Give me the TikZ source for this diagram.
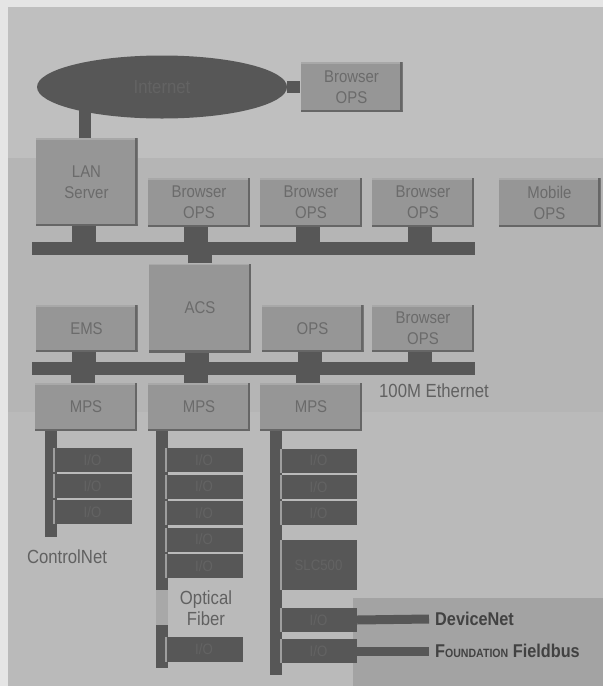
\documentclass[tikz,border=0pt]{standalone}
\usepackage{fontspec}
\setmainfont{Liberation Sans}[FakeStretch=0.88]
\usetikzlibrary{shapes.geometric}
\definecolor{marginc}{gray}{0.90}
\definecolor{bgtop}{gray}{0.75}
\definecolor{bgmid}{gray}{0.71}
\definecolor{bgbot}{gray}{0.73}
\definecolor{bgpanel}{gray}{0.64}
\definecolor{boxc}{gray}{0.59}
\definecolor{boxedge}{gray}{0.40}
\definecolor{boxhi}{gray}{0.66}
\definecolor{boxtxt}{gray}{0.42}
\definecolor{darkc}{gray}{0.34}
\definecolor{darktxt}{gray}{0.39}
\definecolor{iohi}{gray}{0.62}
\definecolor{labtxt}{gray}{0.38}
\definecolor{strongtxt}{gray}{0.26}
\definecolor{fiberc}{gray}{0.66}
\pgfdeclarelayer{back}
\pgfdeclarelayer{mid}
\pgfsetlayers{back,mid,main}
\newcommand{\boxfont}{\fontsize{17}{21}\selectfont}
\newcommand{\iofont}{\fontsize{15}{18}\selectfont}
\begin{document}
\begin{tikzpicture}[x=1pt,y=-1pt,
  box/.style={fill=boxc, minimum width=102pt, inner sep=0pt, text=boxtxt,
    align=center, font=\boxfont,
    path picture={
      \fill[boxhi] (path picture bounding box.north west) rectangle ([yshift=-1.5pt]path picture bounding box.north east);
      \fill[boxedge] ([xshift=-2.5pt]path picture bounding box.north east) rectangle (path picture bounding box.south east);
      \fill[boxedge] (path picture bounding box.south west) rectangle ([yshift=2.5pt]path picture bounding box.south east);
    }},
  ioblk/.style={fill=darkc, inner sep=0pt, text=darktxt, font=\iofont,
    minimum height=24pt,
    path picture={
      \fill[iohi] (path picture bounding box.north west) rectangle ([xshift=2pt]path picture bounding box.south west);
    }},
  busbar/.style={fill=darkc, inner sep=0pt, minimum height=13pt},
  stub/.style={draw=darkc, line width=24pt},
  thinstub/.style={draw=darkc, line width=12pt},
  colbar/.style={draw=darkc, line width=12pt},
  feed/.style={draw=darkc, line width=9pt},
  lab/.style={text=labtxt, font=\fontsize{19}{21}\selectfont, inner sep=0pt, align=center},
  strong/.style={text=strongtxt, font=\fontsize{18.5}{21}\selectfont\bfseries, inner sep=0pt, inner xsep=6pt, anchor=west}
]
\useasboundingbox (0,0) rectangle (603,686);
\begin{pgfonlayer}{back}
\fill[marginc] (0,0) rectangle (603,686);
\fill[bgtop] (8,7) rectangle (603,158);
\fill[bgmid] (8,158) rectangle (603,412);
\fill[bgbot] (8,412) rectangle (603,686);
\fill[bgpanel] (353,598) rectangle (603,686);
\end{pgfonlayer}

% top
\node[ellipse, fill=darkc, minimum width=250pt, minimum height=63pt, inner sep=0pt,
  text=darktxt, font=\fontsize{19}{21}\selectfont] (net) at (162,87) {Internet};
\node[box, minimum height=50pt] (tb) at (351.5,87) {Browser\\OPS};
\node[box, minimum height=88pt] (lan) at (86.5,182) {LAN\\Server};

% row 1
\node[box, minimum height=49pt] (b1) at (199,202.5) {Browser\\OPS};
\node[box, minimum height=49pt] (b2) at (311,202.5) {Browser\\OPS};
\node[box, minimum height=49pt] (b3) at (423,202.5) {Browser\\OPS};
\node[box, minimum height=49pt] (mob) at (549.5,202.5) {Mobile\\OPS};
\node[busbar, minimum width=443pt] (bus1) at (253.5,248.5) {};

% row 2
\node[box, minimum height=89pt] (acs) at (200,308) {ACS};
\node[box, minimum height=47pt] (ems) at (86.5,328.5) {EMS};
\node[box, minimum height=47pt] (ops) at (312.5,328.5) {OPS};
\node[box, minimum height=47pt] (b4) at (423,328.5) {Browser\\OPS};
\node[busbar, minimum width=443pt] (bus2) at (253.5,368.5) {};
\node[lab, anchor=west] (eth) at (379,391) {100M Ethernet};

% MPS
\node[box, minimum height=48pt] (mps1) at (86,407) {MPS};
\node[box, minimum height=48pt] (mps2) at (199,407) {MPS};
\node[box, minimum height=48pt] (mps3) at (311,407) {MPS};

% column 1
\coordinate (c1end) at (51,537);
\node[ioblk, minimum width=79pt] (io11) at (92.5,460) {I/O};
\node[ioblk, minimum width=79pt] (io12) at (92.5,486) {I/O};
\node[ioblk, minimum width=79pt] (io13) at (92.5,512) {I/O};
\node[lab] (cnet) at (67,557) {ControlNet};

% column 2
\coordinate (c2a) at (162,590);
\coordinate (c2b) at (162,625);
\coordinate (c2end) at (162,668);
\node[ioblk, minimum width=78pt] (io21) at (204,460) {I/O};
\node[ioblk, minimum width=78pt] (io22) at (204,486.5) {I/O};
\node[ioblk, minimum width=78pt] (io23) at (204,513) {I/O};
\node[ioblk, minimum width=78pt] (io24) at (204,539.5) {I/O};
\node[ioblk, minimum width=78pt] (io25) at (204,566) {I/O};
\node[lab] (fib) at (206,608) {Optical\\Fiber};
\node[ioblk, minimum width=78pt, minimum height=25pt] (io26) at (204,649.5) {I/O};

% column 3
\coordinate (c3end) at (276,675);
\node[ioblk, minimum width=77pt] (io31) at (318.5,460.5) {I/O};
\node[ioblk, minimum width=77pt] (io32) at (318.5,487) {I/O};
\node[ioblk, minimum width=77pt] (io33) at (318.5,513) {I/O};
\node[ioblk, minimum width=77pt, minimum height=50pt] (slc) at (318.5,565) {SLC500};
\node[ioblk, minimum width=77pt] (io34) at (318.5,620) {I/O};
\node[ioblk, minimum width=77pt] (io35) at (318.5,651) {I/O};
\node[strong] (dnet) at (429,619) {DeviceNet};
\node[strong] (ffb) at (429,651) {F{\fontsize{12}{14}\selectfont OUNDATION} Fieldbus};

\begin{pgfonlayer}{mid}
\draw[thinstub] (net.east) -- (tb.west);
\draw[thinstub] ([xshift=-2pt]lan.north) -- ([xshift=-2pt]lan.north |- net.center);
\foreach \n in {lan,b1,b2,b3} \draw[stub] ([xshift=-3pt]\n.south) -- ([xshift=-3pt]\n.south |- bus1.center);
\draw[stub] (acs.north) -- (acs.north |- bus1.center);
\foreach \n in {ems,acs,ops,b4} \draw[stub] ([xshift=-3pt]\n.south) -- ([xshift=-3pt]\n.south |- bus2.center);
\foreach \n in {mps1,mps2,mps3} \draw[stub] ([xshift=-3pt]\n.north) -- ([xshift=-3pt]\n.north |- bus2.center);
\draw[colbar] (mps1.south -| c1end) -- (c1end);
\draw[colbar] (mps2.south -| c2a) -- (c2a);
\draw[draw=fiberc, line width=12pt] (c2a) -- (c2b);
\draw[colbar] (c2b) -- (c2end);
\draw[colbar] (mps3.south -| c3end) -- (c3end);
\draw[feed] (io34.east) -- (dnet.west);
\draw[feed] (io35.east) -- (ffb.west);
\end{pgfonlayer}
\end{tikzpicture}
\end{document}
